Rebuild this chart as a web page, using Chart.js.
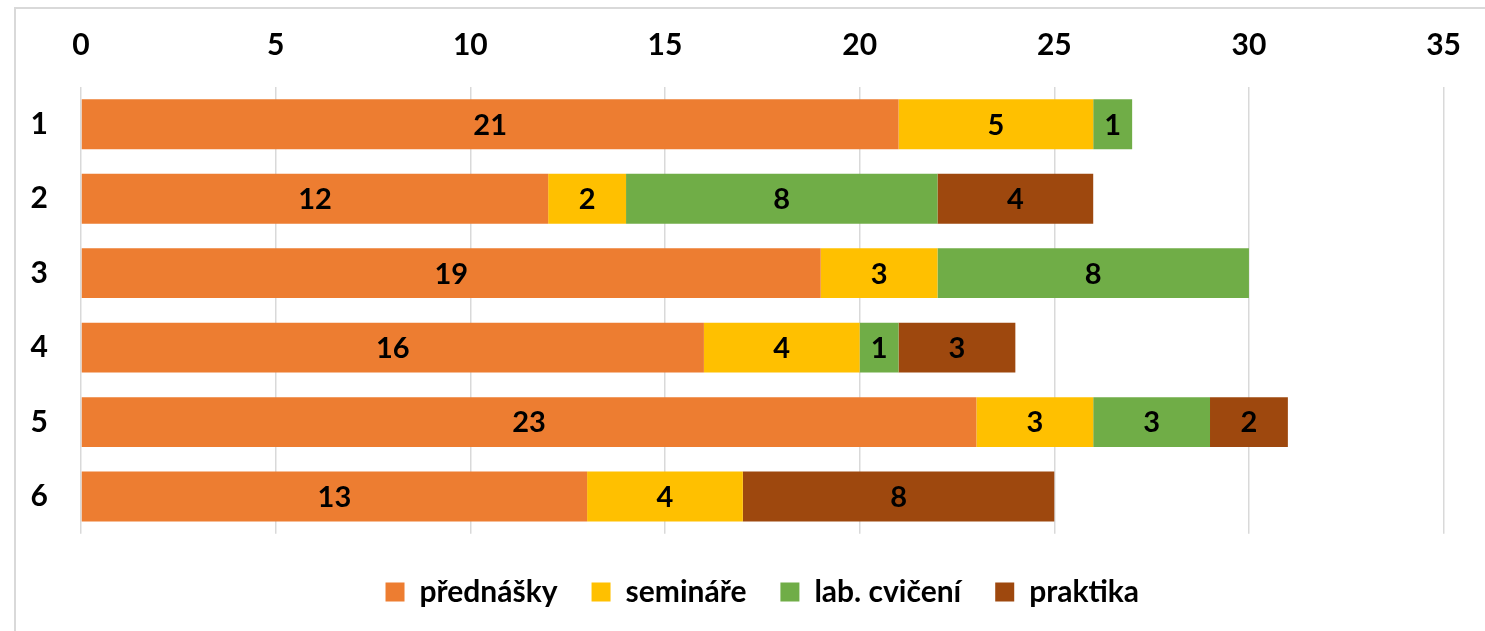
<!DOCTYPE html>
<html>
<head>
<meta charset="utf-8">
<script src="https://cdn.jsdelivr.net/npm/chart.js@4/dist/chart.umd.min.js"></script>
<style>
  body { margin: 0; background: #fff; overflow: hidden; }
  #frame { position: absolute; left: 14px; top: 7px; width: 1500px; height: 700px; border: 2px solid #d9d9d9; }
  #wrap { position: absolute; left: 0; top: 0; width: 1485px; height: 631px; }
</style>
</head>
<body>
<div id="frame"></div>
<div id="wrap"><canvas id="chart"></canvas></div>
<script>
const categories = ['1', '2', '3', '4', '5', '6'];
const seriesNames = ['přednášky', 'semináře', 'lab. cvičení', 'praktika'];
const prednasky = [21, 12, 19, 16, 23, 13];
const seminare = [5, 2, 3, 4, 3, 4];
const labCviceni = [1, 8, 8, 1, 3, null];
const praktika = [null, 4, null, 3, 2, 8];
const xTicks = [0, 5, 10, 15, 20, 25, 30, 35];

const FONT = 'Lato';
const colors = ['#ED7D31', '#FFC000', '#70AD47', '#9E480E'];

// values in the middle of each segment
const barLabels = {
  id: 'barLabels',
  afterDatasetsDraw(chart) {
    const ctx = chart.ctx;
    ctx.save();
    ctx.font = 'bold 29px ' + FONT;
    ctx.fillStyle = '#000';
    ctx.textAlign = 'center';
    ctx.textBaseline = 'middle';
    chart.data.datasets.forEach((ds, i) => {
      chart.getDatasetMeta(i).data.forEach((bar, j) => {
        const v = ds.data[j];
        if (!v) return;
        const p = bar.getCenterPoint();
        ctx.fillText(v, p.x, p.y + 1);
      });
    });
    ctx.restore();
  }
};

const series = [prednasky, seminare, labCviceni, praktika];

new Chart(document.getElementById('chart'), {
  type: 'bar',
  plugins: [barLabels],
  data: {
    labels: categories,
    datasets: series.map((d, i) => ({
      label: seriesNames[i],
      data: d,
      backgroundColor: colors[i],
      categoryPercentage: 0.67,
      barPercentage: 1,
    })),
  },
  options: {
    indexAxis: 'y',
    responsive: true,
    maintainAspectRatio: false,
    animation: false,
    layout: { padding: { left: 14, right: 39, top: 7, bottom: 14 } },
    plugins: {
      legend: {
        position: 'bottom',
        fullSize: false,
        // empty title only adds a gap above the items
        title: { display: true, text: '', padding: { top: 0, bottom: 8 }, font: { size: 1 } },
        labels: {
          color: '#000',
          boxWidth: 19,
          boxHeight: 19,
          padding: 34,
          font: { family: FONT, size: 30, weight: 'bold' },
        },
      },
      tooltip: { enabled: false },
    },
    scales: {
      x: {
        position: 'top',
        stacked: true,
        min: 0,
        max: 35,
        afterBuildTicks: (scale) => { scale.ticks = xTicks.map(v => ({ value: v })); },
        afterFit: (scale) => { scale.height = 80; },
        ticks: {
          color: '#000',
          padding: 24,
          font: { family: FONT, size: 30, weight: 'bold' },
        },
        grid: { color: '#d9d9d9', lineWidth: 1.5, drawTicks: false },
        border: { display: false },
      },
      y: {
        stacked: true,
        afterFit: (scale) => { scale.width = 67; },
        ticks: {
          color: '#000',
          padding: 33,
          font: { family: FONT, size: 30, weight: 'bold' },
        },
        grid: { display: false, drawTicks: false },
        border: { display: false },
      },
    },
  },
});
</script>
</body>
</html>
